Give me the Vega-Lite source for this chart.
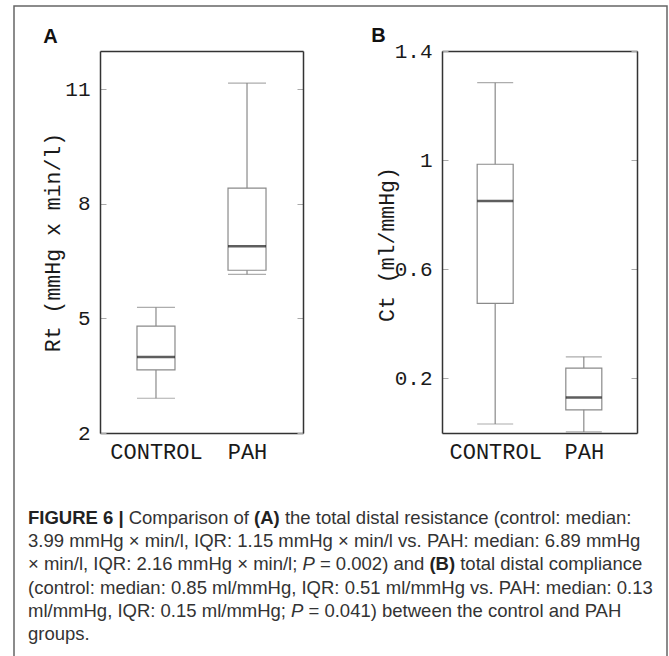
{
  "$schema": "https://vega.github.io/schema/vega-lite/v6.json",
  "width": 653,
  "height": 660,
  "autosize": {"type": "none"},
  "padding": {"left": 14, "top": 6, "right": 2, "bottom": 0},
  "background": "white",
  "config": {
    "view": {"stroke": "#666666", "strokeWidth": 1.5},
    "axis": {"grid": false, "domainColor": "#333333", "domainWidth": 1.5, "tickColor": "#aaaaaa", "tickWidth": 1, "labelFont": "Liberation Mono", "labelFontSize": 21, "labelColor": "#1a1a1a", "labelFlush": false, "labelOverlap": false},
    "text": {"font": "Liberation Sans", "fontSize": 18.5, "color": "#333333", "align": "left", "baseline": "middle"}
  },
  "datasets": {
    "rt": [
      {"group": "CONTROL", "lower": 2.91, "q1": 3.65, "median": 3.99, "q3": 4.8, "upper": 5.29},
      {"group": "PAH", "lower": 6.15, "q1": 6.26, "median": 6.89, "q3": 8.41, "upper": 11.16}
    ],
    "ct": [
      {"group": "CONTROL", "lower": 0.033, "q1": 0.475, "median": 0.85, "q3": 0.985, "upper": 1.284},
      {"group": "PAH", "lower": 0.004, "q1": 0.085, "median": 0.13, "q3": 0.238, "upper": 0.279}
    ],
    "caption": [
      {"id": "n", "line": 2, "text": "3.99 mmHg × min/l, IQR: 1.15 mmHg × min/l vs. PAH: median: 6.89 mmHg"},
      {"id": "n", "line": 3, "text": "× min/l, IQR: 2.16 mmHg × min/l;"},
      {"id": "n", "line": 4, "text": "(control: median: 0.85 ml/mmHg, IQR: 0.51 ml/mmHg vs. PAH: median: 0.13"},
      {"id": "n", "line": 5, "text": "ml/mmHg, IQR: 0.15 ml/mmHg;"},
      {"id": "n", "line": 6, "text": "groups."},
      {"id": "1a", "line": 1, "text": "FIGURE 6 |"},
      {"id": "1b", "line": 1, "text": "Comparison of"},
      {"id": "1c", "line": 1, "text": "(A)"},
      {"id": "1d", "line": 1, "text": "the total distal resistance (control: median:"},
      {"id": "3b", "line": 3, "text": "P"},
      {"id": "3c", "line": 3, "text": "= 0.002) and"},
      {"id": "3d", "line": 3, "text": "(B)"},
      {"id": "3e", "line": 3, "text": "total distal compliance"},
      {"id": "5b", "line": 5, "text": "P"},
      {"id": "5c", "line": 5, "text": "= 0.041) between the control and PAH"}
    ]
  },
  "resolve": {"scale": {"x": "independent", "y": "independent"}},
  "layer": [
    {
      "data": {"name": "caption"},
      "encoding": {
        "x": {"datum": 0, "type": "quantitative", "scale": {"domain": [0, 1], "range": [14, 600]}, "axis": null},
        "y": {"field": "line", "type": "quantitative", "scale": {"domain": [1, 6], "range": [512, 628], "zero": false, "nice": false}, "axis": null},
        "text": {"field": "text", "type": "nominal"}
      },
      "layer": [
        {"transform": [{"filter": "datum.id == 'n'"}], "mark": {"type": "text"}},
        {"transform": [{"filter": "datum.id == '1a'"}], "mark": {"type": "text", "fontWeight": "bold", "color": "#222222"}},
        {"transform": [{"filter": "datum.id == '1b'"}], "mark": {"type": "text", "dx": 100.7}},
        {"transform": [{"filter": "datum.id == '1c'"}], "mark": {"type": "text", "dx": 226.1, "fontWeight": "bold", "color": "#222222"}},
        {"transform": [{"filter": "datum.id == '1d'"}], "mark": {"type": "text", "dx": 256.9}},
        {"transform": [{"filter": "datum.id == '3b'"}], "mark": {"type": "text", "dx": 274.5, "fontStyle": "italic"}},
        {"transform": [{"filter": "datum.id == '3c'"}], "mark": {"type": "text", "dx": 291.9}},
        {"transform": [{"filter": "datum.id == '3d'"}], "mark": {"type": "text", "dx": 401.4, "fontWeight": "bold", "color": "#222222"}},
        {"transform": [{"filter": "datum.id == '3e'"}], "mark": {"type": "text", "dx": 432.2}},
        {"transform": [{"filter": "datum.id == '5b'"}], "mark": {"type": "text", "dx": 263.1, "fontStyle": "italic"}},
        {"transform": [{"filter": "datum.id == '5c'"}], "mark": {"type": "text", "dx": 280.5}}
      ]
    },
    {
      "data": {"name": "rt"},
      "resolve": {"axis": {"x": "independent", "y": "independent"}},
      "layer": [
        {
          "mark": {"type": "rule", "color": "#8a8a8a", "strokeWidth": 1.2},
          "encoding": {
            "x": {"field": "group", "type": "nominal", "scale": {"type": "point", "domain": ["CONTROL", "PAH"], "range": [86, 289], "padding": 0.615},
              "axis": {"orient": "bottom", "offset": -233, "ticks": false, "labelPadding": 8, "labelAngle": 0, "labelFontSize": 22, "title": null}},
            "y": {"field": "lower", "type": "quantitative", "scale": {"domain": [2, 12], "range": [427, 45], "nice": false, "zero": false},
              "axis": {"orient": "left", "offset": -86, "values": [2, 5, 8, 11], "format": "d", "tickSize": -6, "labelPadding": 16,
                "title": "Rt (mmHg x min/l)", "titleX": -47, "titleY": 236, "titleAngle": -90, "titleAlign": "center", "titleBaseline": "middle",
                "titleFont": "Liberation Mono", "titleFontSize": 21.5, "titleFontWeight": "normal", "titleColor": "#1a1a1a"}},
            "y2": {"field": "upper"}
          }
        },
        {
          "mark": {"type": "bar", "fill": "white", "stroke": "#8a8a8a", "strokeWidth": 1.2, "width": 38},
          "encoding": {
            "x": {"field": "group", "type": "nominal", "scale": {"type": "point", "domain": ["CONTROL", "PAH"], "range": [86, 289], "padding": 0.615}, "axis": null},
            "y": {"field": "q1", "type": "quantitative", "scale": {"domain": [2, 12], "range": [427, 45], "nice": false, "zero": false}, "axis": null},
            "y2": {"field": "q3"}
          }
        },
        {
          "mark": {"type": "tick", "color": "#8a8a8a", "thickness": 1.2, "size": 38},
          "encoding": {
            "x": {"field": "group", "type": "nominal", "scale": {"type": "point", "domain": ["CONTROL", "PAH"], "range": [86, 289], "padding": 0.615}, "axis": null},
            "y": {"field": "upper", "type": "quantitative", "scale": {"domain": [2, 12], "range": [427, 45], "nice": false, "zero": false}, "axis": null}
          }
        },
        {
          "mark": {"type": "tick", "color": "#8a8a8a", "thickness": 1.2, "size": 38},
          "encoding": {
            "x": {"field": "group", "type": "nominal", "scale": {"type": "point", "domain": ["CONTROL", "PAH"], "range": [86, 289], "padding": 0.615}, "axis": null},
            "y": {"field": "lower", "type": "quantitative", "scale": {"domain": [2, 12], "range": [427, 45], "nice": false, "zero": false}, "axis": null}
          }
        },
        {
          "mark": {"type": "tick", "color": "#1a1a1a", "thickness": 2.5, "size": 38},
          "encoding": {
            "x": {"field": "group", "type": "nominal", "scale": {"type": "point", "domain": ["CONTROL", "PAH"], "range": [86, 289], "padding": 0.615}, "axis": null},
            "y": {"field": "median", "type": "quantitative", "scale": {"domain": [2, 12], "range": [427, 45], "nice": false, "zero": false}, "axis": null}
          }
        },
        {
          "mark": {"type": "point", "opacity": 0},
          "encoding": {
            "x": {"field": "group", "type": "nominal", "scale": {"type": "point", "domain": ["CONTROL", "PAH"], "range": [86, 289], "padding": 0.615},
              "axis": {"orient": "top", "offset": -45, "ticks": false, "labels": false, "title": "A", "titleX": 36, "titleY": -15, "titleAngle": 0, "titleAlign": "center", "titleBaseline": "middle",
                "titleFont": "Liberation Sans", "titleFontSize": 20, "titleFontWeight": "bold", "titleColor": "#111111"}},
            "y": {"field": "median", "type": "quantitative", "scale": {"domain": [2, 12], "range": [427, 45], "nice": false, "zero": false},
              "axis": {"orient": "right", "offset": -364, "values": [2, 5, 8, 11], "tickSize": -6, "labels": false, "title": null}}
          }
        }
      ]
    },
    {
      "data": {"name": "ct"},
      "resolve": {"axis": {"x": "independent", "y": "independent"}},
      "layer": [
        {
          "mark": {"type": "rule", "color": "#8a8a8a", "strokeWidth": 1.2},
          "encoding": {
            "x": {"field": "group", "type": "nominal", "scale": {"type": "point", "domain": ["CONTROL", "PAH"], "range": [428, 623], "padding": 0.6},
              "axis": {"orient": "bottom", "offset": -233, "ticks": false, "labelPadding": 8, "labelAngle": 0, "labelFontSize": 22, "title": null}},
            "y": {"field": "lower", "type": "quantitative", "scale": {"domain": [0, 1.4], "range": [427, 45], "nice": false, "zero": false},
              "axis": {"orient": "left", "offset": -428, "values": [0.2, 0.6, 1, 1.4], "format": ".1~f", "tickSize": -6, "labelPadding": 16,
                "title": "Ct (ml/mmHg)", "titleX": -55, "titleY": 238, "titleAngle": -90, "titleAlign": "center", "titleBaseline": "middle",
                "titleFont": "Liberation Mono", "titleFontSize": 21.5, "titleFontWeight": "normal", "titleColor": "#1a1a1a"}},
            "y2": {"field": "upper"}
          }
        },
        {
          "mark": {"type": "bar", "fill": "white", "stroke": "#8a8a8a", "strokeWidth": 1.2, "width": 36},
          "encoding": {
            "x": {"field": "group", "type": "nominal", "scale": {"type": "point", "domain": ["CONTROL", "PAH"], "range": [428, 623], "padding": 0.6}, "axis": null},
            "y": {"field": "q1", "type": "quantitative", "scale": {"domain": [0, 1.4], "range": [427, 45], "nice": false, "zero": false}, "axis": null},
            "y2": {"field": "q3"}
          }
        },
        {
          "mark": {"type": "tick", "color": "#8a8a8a", "thickness": 1.2, "size": 36},
          "encoding": {
            "x": {"field": "group", "type": "nominal", "scale": {"type": "point", "domain": ["CONTROL", "PAH"], "range": [428, 623], "padding": 0.6}, "axis": null},
            "y": {"field": "upper", "type": "quantitative", "scale": {"domain": [0, 1.4], "range": [427, 45], "nice": false, "zero": false}, "axis": null}
          }
        },
        {
          "mark": {"type": "tick", "color": "#8a8a8a", "thickness": 1.2, "size": 36},
          "encoding": {
            "x": {"field": "group", "type": "nominal", "scale": {"type": "point", "domain": ["CONTROL", "PAH"], "range": [428, 623], "padding": 0.6}, "axis": null},
            "y": {"field": "lower", "type": "quantitative", "scale": {"domain": [0, 1.4], "range": [427, 45], "nice": false, "zero": false}, "axis": null}
          }
        },
        {
          "mark": {"type": "tick", "color": "#1a1a1a", "thickness": 2.5, "size": 36},
          "encoding": {
            "x": {"field": "group", "type": "nominal", "scale": {"type": "point", "domain": ["CONTROL", "PAH"], "range": [428, 623], "padding": 0.6}, "axis": null},
            "y": {"field": "median", "type": "quantitative", "scale": {"domain": [0, 1.4], "range": [427, 45], "nice": false, "zero": false}, "axis": null}
          }
        },
        {
          "mark": {"type": "point", "opacity": 0},
          "encoding": {
            "x": {"field": "group", "type": "nominal", "scale": {"type": "point", "domain": ["CONTROL", "PAH"], "range": [428, 623], "padding": 0.6},
              "axis": {"orient": "top", "offset": -45, "ticks": false, "labels": false, "title": "B", "titleX": 364, "titleY": -16, "titleAngle": 0, "titleAlign": "center", "titleBaseline": "middle",
                "titleFont": "Liberation Sans", "titleFontSize": 20, "titleFontWeight": "bold", "titleColor": "#111111"}},
            "y": {"field": "median", "type": "quantitative", "scale": {"domain": [0, 1.4], "range": [427, 45], "nice": false, "zero": false},
              "axis": {"orient": "right", "offset": -30, "values": [0.2, 0.6, 1, 1.4], "tickSize": -6, "labels": false, "title": null}}
          }
        }
      ]
    }
  ]
}
